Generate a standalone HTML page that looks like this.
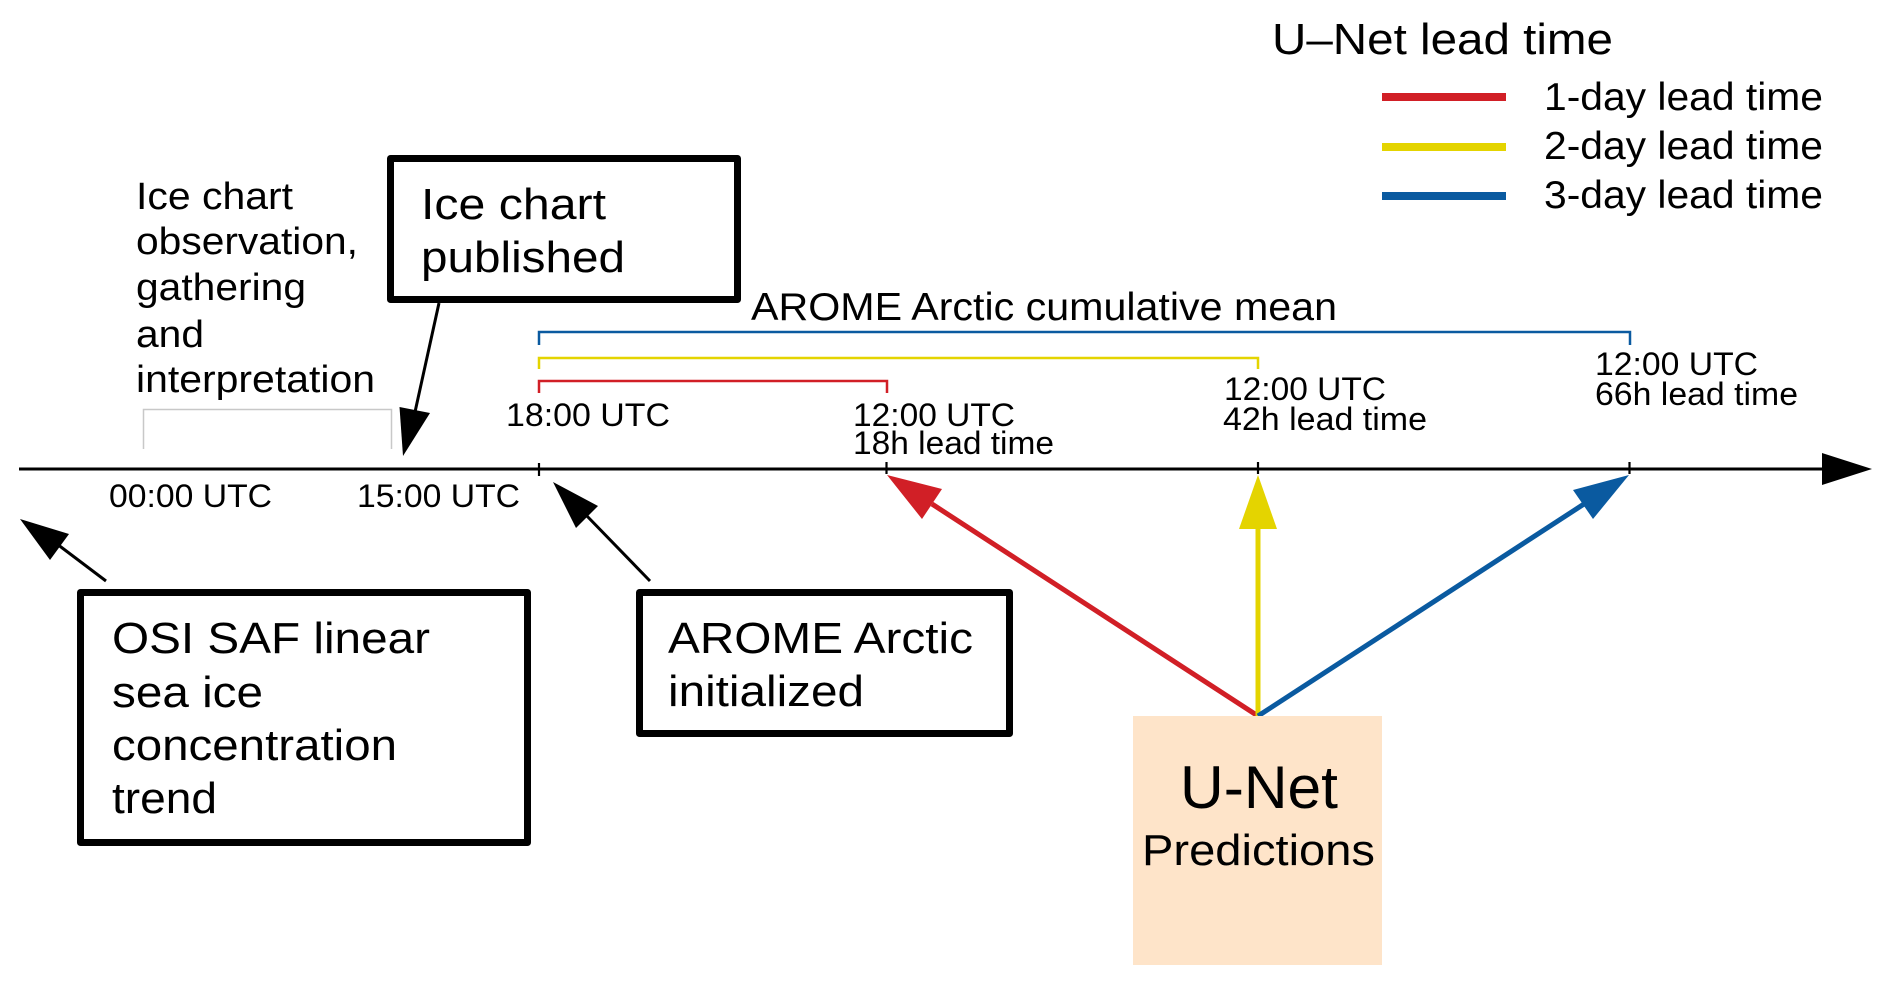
<!DOCTYPE html>
<html>
<head>
<meta charset="utf-8">
<style>
  html, body { margin: 0; padding: 0; background: #ffffff; }
  svg { display: block; }
  text { font-family: "Liberation Sans", Arial, sans-serif; fill: #000; }
</style>
</head>
<body>
<svg width="1892" height="984" viewBox="0 0 1892 984" xmlns="http://www.w3.org/2000/svg">
  <rect x="0" y="0" width="1892" height="984" fill="#ffffff"/>

  <!-- Legend -->
  <text x="1272" y="54" font-size="44" textLength="341" lengthAdjust="spacingAndGlyphs">U–Net lead time</text>
  <line x1="1382" y1="97" x2="1506" y2="97" stroke="#d11f26" stroke-width="8"/>
  <line x1="1382" y1="147" x2="1506" y2="147" stroke="#e4d400" stroke-width="8"/>
  <line x1="1382" y1="196" x2="1506" y2="196" stroke="#0a5aa0" stroke-width="8"/>
  <text x="1544" y="110" font-size="39" textLength="279" lengthAdjust="spacingAndGlyphs">1-day lead time</text>
  <text x="1544" y="159" font-size="39" textLength="279" lengthAdjust="spacingAndGlyphs">2-day lead time</text>
  <text x="1544" y="208" font-size="39" textLength="279" lengthAdjust="spacingAndGlyphs">3-day lead time</text>

  <!-- Left text block -->
  <text x="136" y="209" font-size="38" textLength="157" lengthAdjust="spacingAndGlyphs">Ice chart</text>
  <text x="136" y="254" font-size="38" textLength="222" lengthAdjust="spacingAndGlyphs">observation,</text>
  <text x="136" y="300" font-size="38" textLength="170" lengthAdjust="spacingAndGlyphs">gathering</text>
  <text x="136" y="347" font-size="38" textLength="68" lengthAdjust="spacingAndGlyphs">and</text>
  <text x="136" y="392" font-size="38" textLength="239" lengthAdjust="spacingAndGlyphs">interpretation</text>

  <!-- Gray bracket -->
  <polyline points="143.5,449 143.5,409.5 391.5,409.5 391.5,449" fill="none" stroke="#c8c8c8" stroke-width="1.5"/>

  <!-- Ice chart published box -->
  <rect x="390.5" y="158.5" width="347" height="141" fill="#fff" stroke="#000" stroke-width="7" stroke-linejoin="round"/>
  <text x="421" y="219" font-size="44" textLength="185" lengthAdjust="spacingAndGlyphs">Ice chart</text>
  <text x="421" y="272" font-size="44" textLength="204" lengthAdjust="spacingAndGlyphs">published</text>

  <!-- Arrow from ice chart box -->
  <line x1="439" y1="303" x2="415" y2="412" stroke="#000" stroke-width="3"/>
  <polygon points="403,456 399.5,407 430,413" fill="#000"/>

  <!-- AROME cumulative mean -->
  <text x="751" y="320" font-size="39" textLength="586" lengthAdjust="spacingAndGlyphs">AROME Arctic cumulative mean</text>

  <!-- Brackets -->
  <polyline points="539,345 539,332 1630,332 1630,345" fill="none" stroke="#0a5aa0" stroke-width="2.5"/>
  <polyline points="539,369 539,358 1258,358 1258,369" fill="none" stroke="#e4d400" stroke-width="2.5"/>
  <polyline points="539,393 539,381 887,381 887,393" fill="none" stroke="#d11f26" stroke-width="2.5"/>

  <!-- Time labels above line -->
  <text x="506" y="426" font-size="32" textLength="164" lengthAdjust="spacingAndGlyphs">18:00 UTC</text>
  <text x="853" y="426" font-size="32" textLength="162" lengthAdjust="spacingAndGlyphs">12:00 UTC</text>
  <text x="853" y="454" font-size="32" textLength="201" lengthAdjust="spacingAndGlyphs">18h lead time</text>
  <text x="1224" y="400" font-size="32" textLength="162" lengthAdjust="spacingAndGlyphs">12:00 UTC</text>
  <text x="1223" y="430" font-size="32" textLength="204" lengthAdjust="spacingAndGlyphs">42h lead time</text>
  <text x="1595" y="375" font-size="32" textLength="163" lengthAdjust="spacingAndGlyphs">12:00 UTC</text>
  <text x="1595" y="405" font-size="32" textLength="203" lengthAdjust="spacingAndGlyphs">66h lead time</text>

  <!-- Timeline -->
  <line x1="19" y1="469" x2="1830" y2="469" stroke="#000" stroke-width="3"/>
  <polygon points="1872,469 1822,453 1822,485" fill="#000"/>
  <line x1="539" y1="463" x2="539" y2="476" stroke="#000" stroke-width="2.2"/>
  <line x1="886.5" y1="462" x2="886.5" y2="474" stroke="#000" stroke-width="2.2"/>
  <line x1="1258" y1="462" x2="1258" y2="474" stroke="#000" stroke-width="2.2"/>
  <line x1="1629.5" y1="462" x2="1629.5" y2="474" stroke="#000" stroke-width="2.2"/>

  <!-- Labels below line -->
  <text x="109" y="507" font-size="32" textLength="163" lengthAdjust="spacingAndGlyphs">00:00 UTC</text>
  <text x="357" y="507" font-size="32" textLength="163" lengthAdjust="spacingAndGlyphs">15:00 UTC</text>

  <!-- OSI arrow -->
  <line x1="106" y1="581" x2="57" y2="544" stroke="#000" stroke-width="3"/>
  <polygon points="20,519 69,534 50,560" fill="#000"/>

  <!-- AROME init arrow -->
  <line x1="650" y1="581" x2="585" y2="514" stroke="#000" stroke-width="3"/>
  <polygon points="553,482 598,506 576,528" fill="#000"/>

  <!-- OSI SAF box -->
  <rect x="80.5" y="592.5" width="447" height="250" fill="#fff" stroke="#000" stroke-width="7" stroke-linejoin="round"/>
  <text x="112" y="653" font-size="44" textLength="318" lengthAdjust="spacingAndGlyphs">OSI SAF linear</text>
  <text x="112" y="707" font-size="44" textLength="151" lengthAdjust="spacingAndGlyphs">sea ice</text>
  <text x="112" y="760" font-size="44" textLength="285" lengthAdjust="spacingAndGlyphs">concentration</text>
  <text x="112" y="813" font-size="44" textLength="105" lengthAdjust="spacingAndGlyphs">trend</text>

  <!-- AROME initialized box -->
  <rect x="639.5" y="592.5" width="370" height="141" fill="#fff" stroke="#000" stroke-width="7" stroke-linejoin="round"/>
  <text x="668" y="653" font-size="44" textLength="305" lengthAdjust="spacingAndGlyphs">AROME Arctic</text>
  <text x="668" y="706" font-size="44" textLength="196" lengthAdjust="spacingAndGlyphs">initialized</text>

  <!-- Colored connectors -->
  <line x1="1258" y1="716" x2="932" y2="504" stroke="#d11f26" stroke-width="5"/>
  <polygon points="887,475 942,489 922,519" fill="#d11f26"/>
  <line x1="1258" y1="716" x2="1258" y2="527" stroke="#e4d400" stroke-width="5"/>
  <polygon points="1258,475 1239,529 1277,529" fill="#e4d400"/>
  <line x1="1258" y1="716" x2="1584" y2="504" stroke="#0a5aa0" stroke-width="5"/>
  <polygon points="1629,475 1573,490 1593,519" fill="#0a5aa0"/>

  <!-- U-Net box -->
  <rect x="1133" y="716" width="249" height="249" fill="#fee4c9"/>
  <text x="1180" y="808" font-size="60" textLength="158" lengthAdjust="spacingAndGlyphs">U-Net</text>
  <text x="1142" y="865" font-size="44" textLength="233" lengthAdjust="spacingAndGlyphs">Predictions</text>
</svg>
</body>
</html>
